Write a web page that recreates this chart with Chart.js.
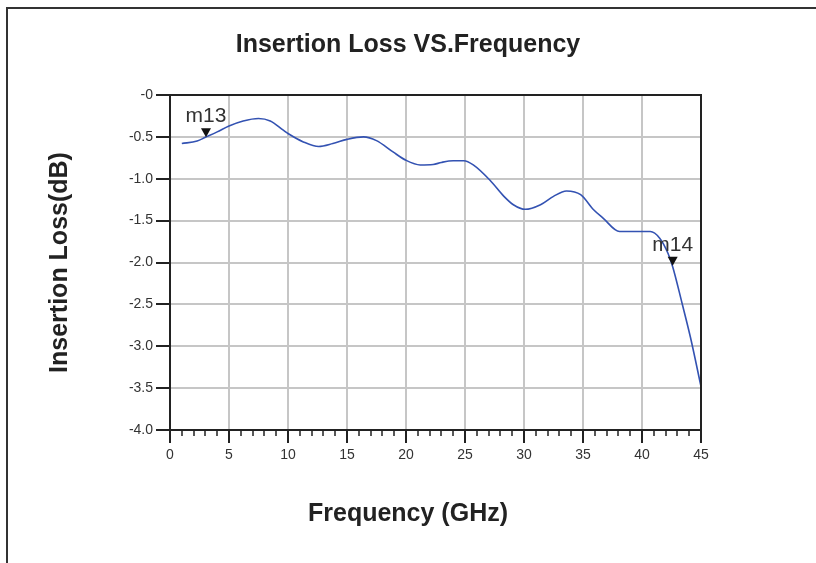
<!DOCTYPE html>
<html>
<head>
<meta charset="utf-8">
<script src="https://cdn.jsdelivr.net/npm/chart.js@4"></script>
<style>
  html, body { margin: 0; padding: 0; background: #fff; }
  #wrap { width: 816px; height: 563px; }
</style>
</head>
<body>
<div id="wrap"><canvas id="c" width="816" height="563"></canvas></div>
<script>
// ---- data ----
const freqGHz = [1, 2.3, 3, 4, 5, 6.2, 7.5, 8.5, 9.6, 10, 11.3, 12.6, 13.8, 15, 16.4, 17.5, 18.9, 20, 21.2, 22.3, 23, 24, 24.9, 25.7, 27.1, 28.3, 29.1, 30.1, 31.4, 32.5, 33.6, 34.8, 35.9, 36.7, 38.1, 39.8, 40.7, 41.5, 42.2, 42.6, 43.4, 44.1, 45];
const insertionLossDb = [-0.58, -0.55, -0.505, -0.44, -0.37, -0.31, -0.28, -0.31, -0.42, -0.46, -0.56, -0.615, -0.58, -0.53, -0.5, -0.545, -0.68, -0.78, -0.835, -0.83, -0.805, -0.785, -0.785, -0.835, -1.015, -1.21, -1.31, -1.365, -1.31, -1.21, -1.146, -1.19, -1.37, -1.47, -1.63, -1.63, -1.63, -1.71, -1.89, -2.05, -2.49, -2.89, -3.48];
const markerNames = ['m13', 'm14'];
const markerFreq = [3.05, 42.6];
const markerValue = [-0.505, -2.04];
const xTickValues = [0, 5, 10, 15, 20, 25, 30, 35, 40, 45];
const yTickValues = [0, -0.5, -1.0, -1.5, -2.0, -2.5, -3.0, -3.5, -4.0];

const points = freqGHz.map((f, i) => ({ x: f, y: insertionLossDb[i] }));
const FONT = '"Liberation Sans", Arial, sans-serif';

const deco = {
  id: 'deco',
  beforeDraw(chart) {
    const { ctx, width, height } = chart;
    ctx.save();
    ctx.fillStyle = '#fff';
    ctx.fillRect(0, 0, width, height);
    ctx.strokeStyle = '#333';
    ctx.lineWidth = 2;
    ctx.beginPath();
    ctx.moveTo(7, height);
    ctx.lineTo(7, 8);
    ctx.lineTo(width, 8);
    ctx.stroke();
    ctx.restore();
  },
  afterDatasetsDraw(chart) {
    const { ctx, chartArea: a, scales: { x, y } } = chart;
    ctx.save();
    // top/right frame of plot
    ctx.strokeStyle = '#222';
    ctx.lineWidth = 2;
    ctx.beginPath();
    ctx.moveTo(a.left, a.top);
    ctx.lineTo(a.right, a.top);
    ctx.lineTo(a.right, a.bottom);
    ctx.stroke();
    // minor ticks on x axis (every 1 GHz)
    ctx.lineWidth = 1.5;
    ctx.beginPath();
    for (let v = Math.ceil(x.min); v <= x.max; v++) {
      if (v % 5 === 0) continue;
      const px = Math.round(x.getPixelForValue(v));
      ctx.moveTo(px, a.bottom);
      ctx.lineTo(px, a.bottom + 6);
    }
    ctx.stroke();
    // markers
    ctx.font = '21px ' + FONT;
    ctx.textAlign = 'center';
    ctx.textBaseline = 'alphabetic';
    markerNames.forEach((name, i) => {
      const px = x.getPixelForValue(markerFreq[i]);
      const py = y.getPixelForValue(markerValue[i]);
      ctx.fillStyle = '#111';
      ctx.beginPath();
      ctx.moveTo(px - 5, py - 9);
      ctx.lineTo(px + 5, py - 9);
      ctx.lineTo(px, py);
      ctx.closePath();
      ctx.fill();
      ctx.fillStyle = '#333';
      ctx.fillText(name, px, py - 15);
    });
    ctx.restore();
  }
};

new Chart(document.getElementById('c'), {
  type: 'line',
  data: {
    datasets: [{
      data: points,
      borderColor: '#3352b2',
      borderWidth: 1.6,
      pointRadius: 0,
      fill: false,
      cubicInterpolationMode: 'monotone'
    }]
  },
  options: {
    responsive: false,
    animation: false,
    devicePixelRatio: 1,
    layout: { padding: 0 },
    plugins: {
      legend: { display: false },
      tooltip: { enabled: false },
      title: {
        display: true,
        text: 'Insertion Loss VS.Frequency',
        color: '#222',
        font: { family: FONT, size: 25, weight: 'bold' },
        padding: { top: 30, bottom: 35 }
      },
      subtitle: {
        display: true,
        position: 'bottom',
        text: 'Frequency (GHz)',
        color: '#222',
        font: { family: FONT, size: 25, weight: 'bold' },
        padding: { top: 0, bottom: 34 }
      }
    },
    scales: {
      x: {
        type: 'linear',
        min: 0,
        max: 45,
        afterBuildTicks(s) { s.ticks = xTickValues.map(v => ({ value: v })); },
        afterFit(s) { s.height = 69; },
        ticks: {
          color: '#333',
          padding: 4,
          maxRotation: 0,
          font: { family: FONT, size: 14 }
        },
        grid: { color: '#c6c6c6', lineWidth: 2, tickColor: '#222', tickWidth: 2, tickLength: 13 },
        border: { color: '#222', width: 2 }
      },
      y: {
        type: 'linear',
        min: -4,
        max: 0,
        afterBuildTicks(s) { s.ticks = yTickValues.map(v => ({ value: v })); },
        afterFit(s) { s.width = 170; },
        ticks: {
          color: '#333',
          padding: 3,
          font: { family: FONT, size: 14 },
          callback: (v) => (v === 0 ? '-0' : Number(v).toFixed(1))
        },
        grid: { color: '#c6c6c6', lineWidth: 2, tickColor: '#222', tickWidth: 2, tickLength: 14 },
        border: { color: '#222', width: 2 },
        title: {
          display: true,
          text: 'Insertion Loss(dB)',
          color: '#222',
          font: { family: FONT, size: 25, weight: 'bold' },
          padding: { top: 45, bottom: 0 }
        }
      },
      yRightSpace: {
        type: 'linear',
        position: 'right',
        display: true,
        min: -4,
        max: 0,
        afterFit(s) { s.width = 115; },
        ticks: { display: false },
        grid: { display: false, drawTicks: false },
        border: { display: false }
      }
    }
  },
  plugins: [deco]
});
</script>
</body>
</html>
